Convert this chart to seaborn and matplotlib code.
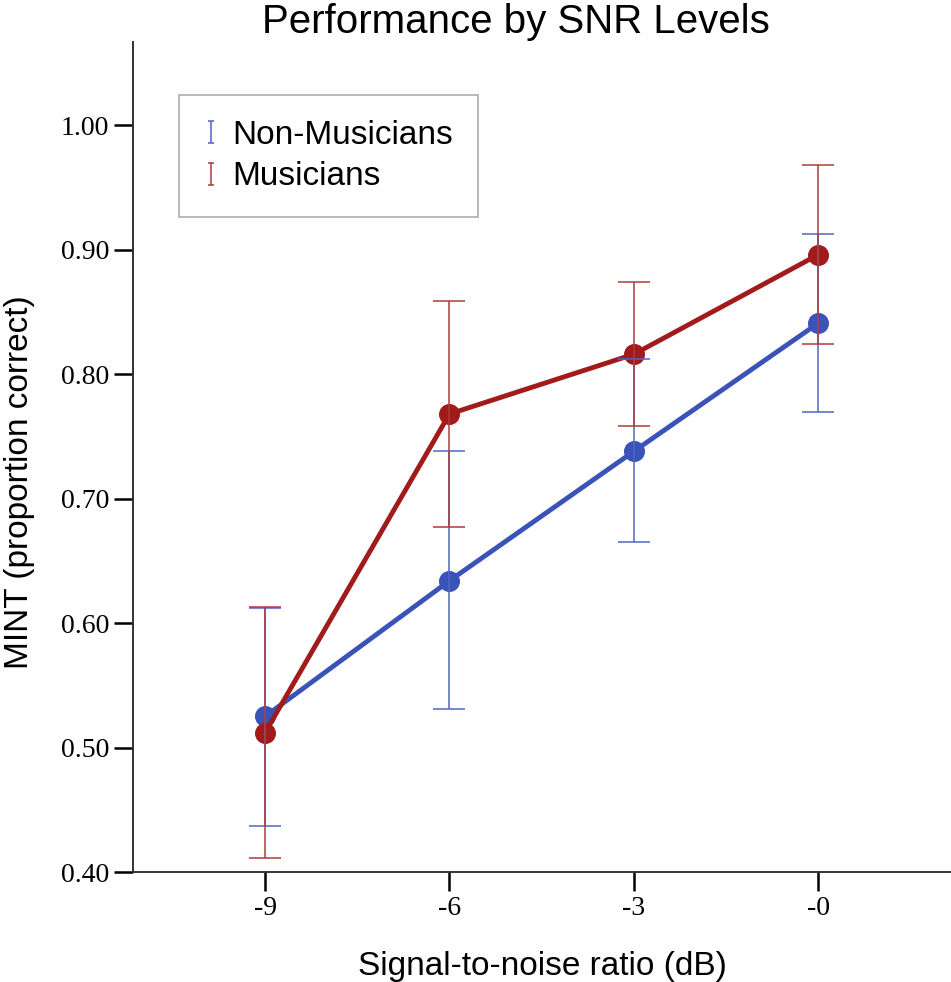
import numpy as np
import pandas as pd
import matplotlib
matplotlib.use("Agg")
import matplotlib.pyplot as plt
from matplotlib.path import Path
from matplotlib.lines import Line2D
import seaborn as sns

snr_labels = ["-9", "-6", "-3", "-0"]
groups = ["Non-Musicians", "Musicians"]

nonmus_mean = [0.525, 0.634, 0.738, 0.841]
nonmus_low = [0.437, 0.531, 0.665, 0.770]
nonmus_high = [0.612, 0.738, 0.812, 0.913]

mus_mean = [0.512, 0.768, 0.816, 0.896]
mus_low = [0.411, 0.677, 0.758, 0.824]
mus_high = [0.613, 0.859, 0.874, 0.968]

colors = {"Non-Musicians": "#3a53b8", "Musicians": "#a11b1b"}
err_colors = {"Non-Musicians": "#4f66c4", "Musicians": "#b03a3a"}

df = pd.DataFrame({
    "snr": snr_labels * 2,
    "group": [groups[0]] * 4 + [groups[1]] * 4,
    "mean": nonmus_mean + mus_mean,
    "low": nonmus_low + mus_low,
    "high": nonmus_high + mus_high,
})

sns.set_theme(style="white")
plt.rcParams["font.family"] = ["Liberation Sans", "DejaVu Sans"]
plt.rcParams["text.color"] = "black"

fig = plt.figure(figsize=(9.51, 9.82), dpi=100)
ax = fig.add_axes([0.1399, 0.112, 0.8601, 0.845])

sns.pointplot(data=df, x="snr", y="mean", hue="group", order=snr_labels,
              hue_order=groups, palette=colors, errorbar=None,
              markers="o", markersize=12.5, linewidth=3.5, ax=ax, legend=False)

xpos = np.arange(len(snr_labels))
for g in groups:
    sub = df[df["group"] == g].set_index("snr").loc[snr_labels]
    yerr = np.vstack([sub["mean"] - sub["low"], sub["high"] - sub["mean"]])
    ax.errorbar(xpos, sub["mean"], yerr=yerr, fmt="none",
                ecolor=err_colors[g], elinewidth=1.1, capsize=11.5,
                capthick=1.1, zorder=5)

ibar = Path([(-0.3, -1), (0.3, -1), (0, -1), (0, 1), (-0.3, 1), (0.3, 1)],
            [Path.MOVETO, Path.LINETO, Path.MOVETO, Path.LINETO, Path.MOVETO, Path.LINETO])
handles = []
for g in groups:
    handles.append(Line2D([], [], linestyle="none", marker=ibar, markersize=16,
                          markeredgewidth=1.1, markeredgecolor=err_colors[g],
                          markerfacecolor="none", label=g))

leg = ax.legend(handles=handles, loc="upper left", bbox_to_anchor=(0.0562, 0.937),
                borderaxespad=0, frameon=True, fancybox=False, fontsize=24,
                borderpad=0.75, handlelength=0.4, handletextpad=0.45,
                labelspacing=0.32)
leg.get_frame().set_edgecolor("#a0a0a0")
leg.get_frame().set_linewidth(1.3)
for t in leg.get_texts():
    t.set_color("black")

ax.set_ylim(0.40, 1.0667)
ax.set_xlim(-0.716, 3.72)
yticks = [0.4, 0.5, 0.6, 0.7, 0.8, 0.9, 1.0]
ax.set_yticks(yticks)
ax.set_yticklabels([f"{v:.2f}" for v in yticks])

for lab in ax.get_xticklabels() + ax.get_yticklabels():
    lab.set_fontfamily(["Liberation Serif", "DejaVu Serif"])
    lab.set_fontsize(20)
    lab.set_color("black")

ax.tick_params(axis="both", which="major", direction="out", length=14,
               width=1.8, color="black", left=True, bottom=True, pad=3)

sns.despine(ax=ax, top=True, right=True)
for sp in ["left", "bottom"]:
    ax.spines[sp].set_color("#333333")
    ax.spines[sp].set_linewidth(1.4)

ax.set_xlabel("Signal-to-noise ratio (dB)", fontsize=24, color="black", labelpad=22)
ax.set_ylabel("MINT (proportion correct)", fontsize=24, color="black")
ax.yaxis.label.set_verticalalignment("center")
ax.yaxis.label.set_horizontalalignment("center")
ax.yaxis.set_label_coords(-0.1385, 0.47)
fig.text(0.543, 1 - 33 / 982, "Performance by SNR Levels", fontsize=29,
         ha="center", va="baseline", color="black")

fig.savefig("out.png", dpi=100)
